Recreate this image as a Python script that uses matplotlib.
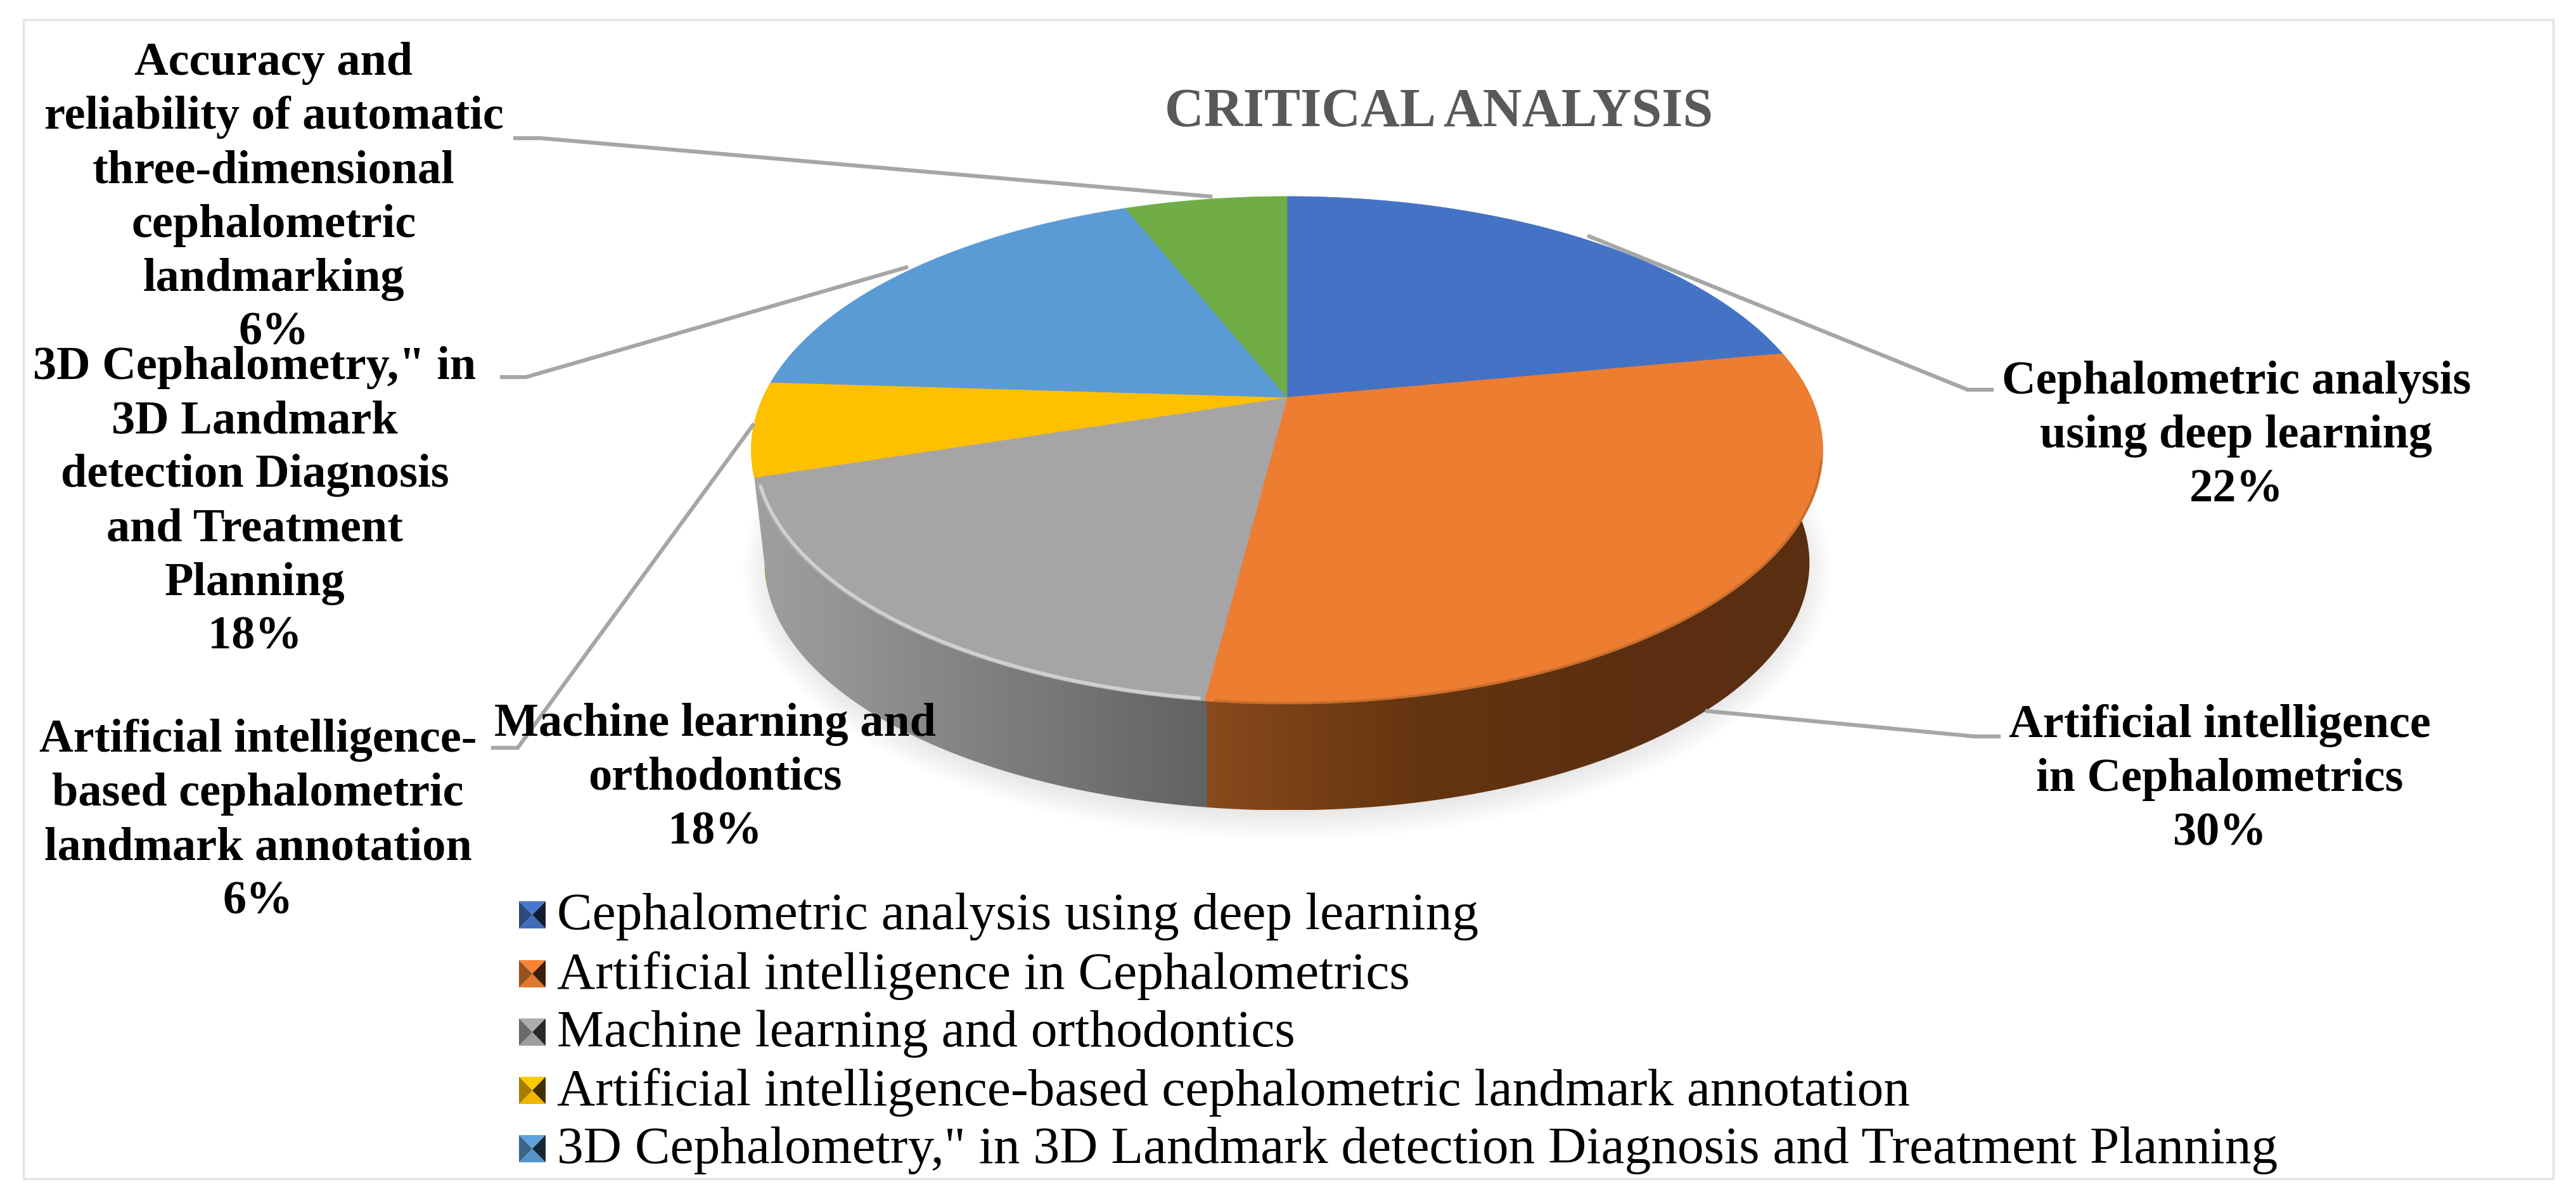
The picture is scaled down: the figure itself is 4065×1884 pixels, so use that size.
import numpy as np
import matplotlib
matplotlib.use("Agg")
import matplotlib.pyplot as plt
from matplotlib.colors import LinearSegmentedColormap
from matplotlib.patches import Polygon, Rectangle, Ellipse

# === DATA ===
title = "CRITICAL ANALYSIS"
categories = [
    "Cephalometric analysis using deep learning",
    "Artificial intelligence in Cephalometrics",
    "Machine learning and orthodontics",
    "Artificial intelligence-based cephalometric landmark annotation",
    '3D Cephalometry," in 3D Landmark detection Diagnosis and Treatment Planning',
    "Accuracy and reliability of automatic three-dimensional cephalometric landmarking",
]
percent = [22, 30, 18, 6, 18, 6]
colors = ["#4472C4", "#ED7D31", "#A5A5A5", "#FFC000", "#5B9BD5", "#70AD47"]
label_lines = [
    "Cephalometric analysis\nusing deep learning",
    "Artificial intelligence\nin Cephalometrics",
    "Machine learning and\northodontics",
    "Artificial intelligence-\nbased cephalometric\nlandmark annotation",
    '3D Cephalometry," in\n3D Landmark\ndetection Diagnosis\nand Treatment\nPlanning',
    "Accuracy and\nreliability of automatic\nthree-dimensional\ncephalometric\nlandmarking",
]
legend_count = 5  # the sixth entry is cut off in the original

# === LAYOUT (pixels of the 4066x1884 image) ===
W, H = 4066, 1884
CX, CY = 2031, 627      # where the slices meet
RX, RY, K = 827, 383, 0.208   # tilt of the pie
DEPTH = 180
label_pos = [(3529, 688), (3503, 1230), (1128, 1228), (407, 1296), (402, 793), (432, 313)]
leaders = [
    [(2508, 373), (3105, 615), (3143, 615)],
    [(2694, 1122), (3116, 1162), (3154, 1162)],
    None,
    [(1188, 671), (817, 1180), (778, 1180)],
    [(1430, 422), (830, 595), (792, 595)],
    [(1910, 310), (853, 218), (813, 218)],
]
legend_rows = [1446, 1539, 1631, 1723, 1815]

plt.rcParams["font.family"] = ["Liberation Serif", "DejaVu Serif"]

fig = plt.figure(figsize=(W / 100, H / 100), dpi=100)
ax = fig.add_axes([0, 0, 1, 1])


def rim(a0, a1, n=200, shrink=1.0, dy=0):
    # angles are clockwise from 12 o'clock, in degrees
    t = np.radians(np.linspace(a0, a1, n))
    u, v = np.sin(t), np.cos(t)
    w = 1 + K * v
    return np.column_stack([CX + shrink * RX * u / w, CY - shrink * RY * v / w + dy])


def gradient_fill(poly, x0, x1, stops, z):
    y0, y1 = poly[:, 1].min(), poly[:, 1].max()
    cmap = LinearSegmentedColormap.from_list("g", stops)
    im = ax.imshow(np.linspace(0, 1, 256).reshape(1, -1), cmap=cmap, aspect="auto",
                   extent=[x0, x1, y1, y0], zorder=z)
    patch = Polygon(poly, closed=True, transform=ax.transData, fc="none", ec="none")
    ax.add_patch(patch)
    im.set_clip_path(patch)


# frame
ax.add_patch(Rectangle((37, 31), 3992, 1829, fc="white", ec="#E4E4E4", lw=2.5, zorder=0))

# soft shadow under the pie
for i in range(16):
    ax.add_patch(Ellipse((CX, CY + 81 + DEPTH + 12), 2 * (RX + 32 - i * 4), 2 * (RY + 42 - i * 4),
                         fc="#808080", ec="none", alpha=0.012, zorder=1))

edges = np.concatenate([[0], np.cumsum(percent)]) * 3.6

# side wall, yellow first so the grey covers most of it
for i, stops, x0, x1, z in [
    (3, ["#B38900", "#8A6A00"], 1170, 1240, 2.0),
    (1, ["#8A4A1C", "#65350F", "#5C2F12", "#5A2E11"], 1895, 2900, 2.1),
    (2, ["#A0A0A0", "#626262"], 1190, 1905, 2.2),
]:
    # a little extra on the start angle closes the seam between neighbours
    top = rim(edges[i] - 0.2, edges[i + 1])
    low = rim(edges[i] - 0.2, edges[i + 1], shrink=0.975, dy=DEPTH)
    gradient_fill(np.vstack([top, low[::-1]]), x0, x1, stops, z)

# top face
for i, c in enumerate(colors):
    pts = np.vstack([[CX, CY], rim(edges[i], edges[i + 1])])
    ax.add_patch(Polygon(pts, closed=True, fc=c, ec=c, lw=0.5, zorder=3))

# bevel along the front edge
arc = rim(edges[2] + 0.5, edges[3] - 2, shrink=0.993)
ax.plot(arc[:, 0], arc[:, 1], color="#D0D0D0", lw=4, zorder=4, solid_capstyle="round")
arc = rim(edges[1] + 25, edges[2] - 1, shrink=0.998)
ax.plot(arc[:, 0], arc[:, 1], color="#B5652A", lw=3, alpha=0.6, zorder=4)

# leader lines
for pts in leaders:
    if pts is None:
        continue
    xs, ys = zip(*pts)
    ax.plot(xs, ys, color="#A6A6A6", lw=4.5, zorder=5, solid_joinstyle="miter")

# data labels
for lab, p, (x, y) in zip(label_lines, percent, label_pos):
    ax.text(x, y, f"{lab}\n{p}%", ha="center", va="center", fontsize=53.5, fontweight="bold",
            color="black", linespacing=1.33, zorder=6)

ax.text(2271, 178, title, ha="center", va="center", fontsize=61.7, fontweight="bold", color="#595959", zorder=6)

# legend with bevelled squares
for name, c, y in zip(categories[:legend_count], colors, legend_rows):
    x0, x1, y0, y1 = 819, 861, y - 24, y + 19
    base = np.array(matplotlib.colors.to_rgb(c))
    xm, ym = (x0 + x1) / 2, (y0 + y1) / 2
    ax.add_patch(Polygon([(x0, y0), (x1, y0), (xm, ym)], fc=np.clip(base * 1.05, 0, 1), ec="none", zorder=6))
    ax.add_patch(Polygon([(x0, y1), (x1, y1), (xm, ym)], fc=np.clip(base * 0.95, 0, 1), ec="none", zorder=6))
    ax.add_patch(Polygon([(x0, y0), (x0, y1), (xm, ym)], fc=base * 0.65, ec="none", zorder=6))
    ax.add_patch(Polygon([(x1, y0), (x1, y1), (xm, ym)], fc=base * 0.25, ec="none", zorder=6))
    ax.text(879, y, name, ha="left", va="center", fontsize=60, color="black", zorder=6)

ax.set_xlim(0, W)
ax.set_ylim(H, 0)
ax.axis("off")
fig.savefig("out.png", dpi=100, facecolor="white")
